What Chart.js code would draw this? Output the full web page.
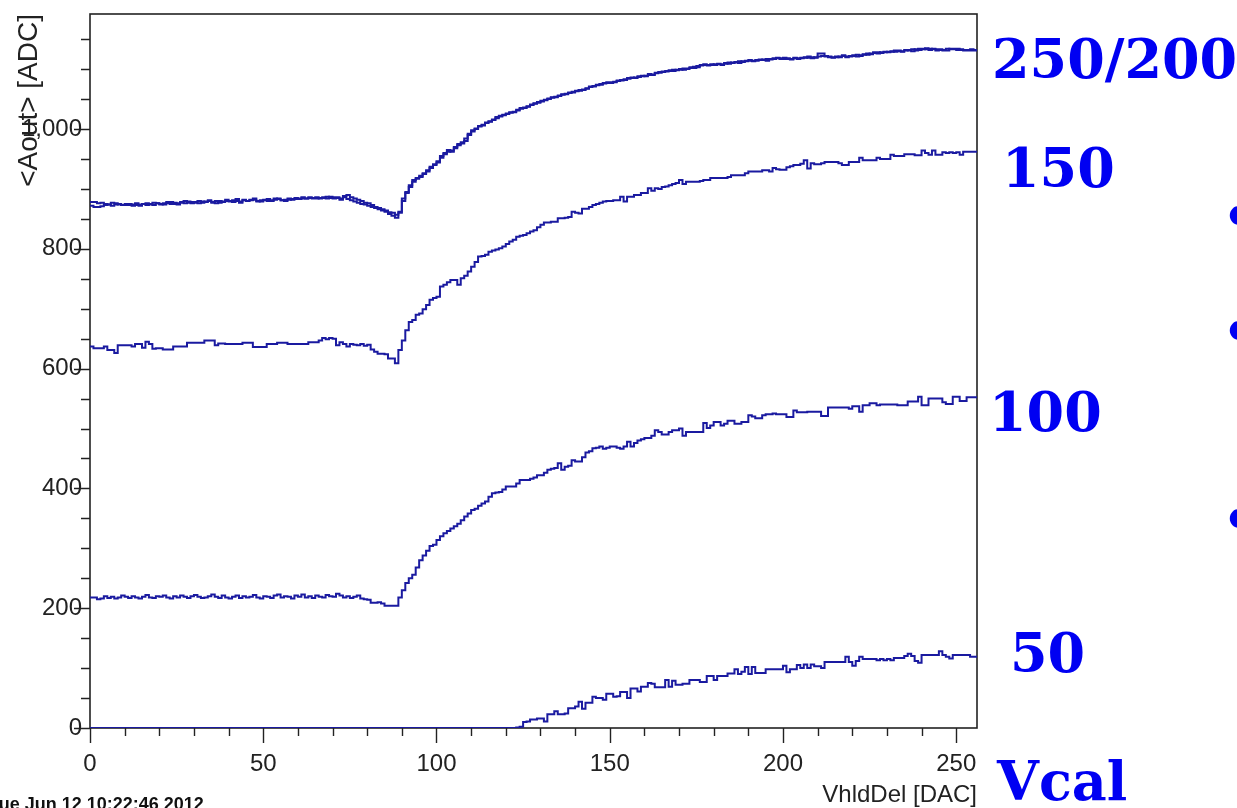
<!DOCTYPE html>
<html>
<head>
<meta charset="utf-8">
<title>VhldDel scan</title>
<script src="https://cdn.jsdelivr.net/npm/chart.js@4.4.1/dist/chart.umd.min.js"></script>
<style>
  html, body { margin: 0; padding: 0; background: #ffffff; }
  #wrap { position: relative; width: 1237px; height: 808px; overflow: hidden; }
  canvas { display: block; }
</style>
</head>
<body>
<div id="wrap"><canvas id="c" width="1237" height="808"></canvas></div>
<script>
// Mean analog output <Aout> per VhldDel DAC bin (0..255), one scan per Vcal setting
const aout250 = [
  878,878,876,877,875,874,877,876,874,873, 875,873,874,876,874,875,873,875,877,876,
  874,876,878,875,877,876,878,880,877,876, 878,880,877,879,881,878,880,877,879,882,
  880,878,883,879,881,880,882,884,880,879, 881,883,880,882,884,881,880,882,883,885,
  883,884,884,886,884,884,885,885,884,887, 886,886,884,888,890,886,884,882,880,877,
  876,873,870,868,866,864,861,860,857,862, 880,895,906,915,918,922,926,931,937,941,
  946,955,960,965,962,970,973,976,980,990, 996,1001,1004,1007,1010,1012,1015,1020,1021,1023,
  1025,1027,1029,1031,1034,1036,1037,1040,1042,1044, 1047,1048,1050,1053,1054,1055,1058,1058,1060,1062,
  1063,1064,1066,1068,1070,1072,1073,1075,1076,1077, 1077,1079,1080,1081,1083,1085,1085,1086,1087,1088,
  1089,1092,1090,1094,1094,1095,1097,1097,1099,1098, 1100,1099,1100,1102,1104,1103,1107,1107,1106,1108,
  1107,1108,1108,1110,1109,1111,1112,1110,1113,1114, 1114,1113,1115,1115,1116,1114,1117,1118,1118,1117,
  1119,1117,1117,1118,1117,1119,1119,1121,1118,1120, 1126,1126,1122,1120,1120,1120,1121,1122,1120,1122,
  1122,1121,1123,1125,1124,1126,1128,1128,1127,1129, 1128,1130,1129,1130,1130,1132,1131,1130,1133,1134,
  1134,1133,1134,1133,1131,1132,1131,1131,1134,1134, 1134,1132,1131,1131,1131,1131
];
const aout200 = [
  872,870,870,871,873,874,872,874,875,873, 873,875,872,873,872,875,876,874,873,876,
  875,874,876,878,875,874,877,876,879,878, 877,876,879,878,880,877,876,880,878,880,
  879,881,880,877,882,880,881,882,879,881, 882,880,881,884,883,881,882,884,882,883,
  884,886,884,885,885,886,884,886,887,885, 884,885,882,886,883,881,879,877,875,874,
  872,870,868,866,864,862,858,855,852,860, 884,893,903,912,917,920,925,929,935,940,
  944,952,958,962,964,968,975,978,984,992, 998,1000,1005,1006,1011,1013,1016,1018,1022,1024,
  1026,1028,1028,1032,1035,1035,1038,1041,1043,1045, 1046,1049,1051,1052,1053,1056,1057,1059,1061,1061,
  1064,1065,1065,1067,1071,1071,1074,1074,1077,1078, 1078,1078,1081,1082,1082,1084,1086,1085,1088,1089,
  1088,1090,1091,1093,1095,1096,1096,1098,1097,1099, 1099,1101,1101,1103,1102,1105,1106,1108,1107,1107,
  1108,1109,1107,1109,1111,1110,1111,1113,1112,1113, 1115,1114,1114,1116,1115,1117,1116,1117,1119,1118,
  1117,1118,1116,1119,1118,1118,1120,1119,1120,1119, 1121,1122,1121,1121,1119,1121,1120,1123,1121,1121,
  1123,1124,1122,1124,1126,1125,1127,1126,1128,1128, 1129,1129,1131,1131,1129,1131,1132,1133,1131,1132,
  1133,1135,1132,1134,1133,1133,1132,1134,1133,1133, 1132,1133,1132,1132,1133,1132
];
const aout150 = [
  637,634,634,634,637,631,631,626,639,639, 639,639,637,641,641,635,645,641,633,634,
  634,632,632,632,637,637,637,637,643,643, 643,643,643,647,647,647,639,642,642,641,
  641,641,641,641,643,643,643,636,636,636, 636,641,641,641,643,643,643,641,641,641,
  641,641,641,644,644,644,647,651,649,651, 650,639,644,641,637,641,640,639,641,638,
  640,632,628,625,625,624,617,617,609,631, 647,664,678,681,690,692,699,706,715,718,
  720,737,740,744,748,748,740,751,755,762, 770,778,787,788,790,795,797,799,801,804,
  808,812,815,820,822,823,826,829,831,836, 840,844,844,845,845,851,851,852,853,862,
  860,859,867,867,870,873,875,877,879,880, 880,881,881,887,879,887,887,890,890,893,
  893,901,897,901,900,903,904,906,908,910, 915,908,912,912,912,912,913,915,915,918,
  918,918,918,918,920,923,923,923,923,926, 929,929,929,929,931,931,929,935,933,932,
  932,936,938,940,940,942,948,934,943,941, 941,943,945,945,945,945,943,940,940,945,
  945,945,952,948,948,948,948,952,950,950, 950,957,955,955,955,958,958,958,956,956,
  964,960,957,964,957,957,961,960,961,960, 961,957,962,962,962,962
];
const aout100 = [
  218,218,215,216,220,217,219,216,218,221, 219,217,220,218,216,219,222,218,217,220,
  219,221,218,216,220,218,221,219,217,220, 222,219,217,218,220,223,219,217,221,218,
  216,219,221,217,220,218,219,222,218,216, 220,219,217,221,223,218,220,219,216,221,
  219,223,218,220,217,221,219,218,222,220, 219,224,221,218,220,217,219,221,216,215,
  214,209,209,210,208,204,204,204,204,218, 230,242,250,256,268,280,288,296,304,306,
  314,320,325,329,333,337,341,347,353,358, 364,366,371,375,378,386,392,393,394,398,
  403,403,403,408,414,414,414,416,418,422, 422,426,431,433,434,442,431,436,438,447,
  445,445,452,460,462,467,468,470,466,468, 470,470,468,466,470,478,470,476,480,482,
  484,484,488,497,494,490,490,494,497,497, 500,488,494,494,494,494,494,509,501,505,
  511,511,505,508,513,513,508,508,511,511, 522,520,517,517,522,524,524,525,524,524,
  524,519,519,530,527,527,527,528,528,528, 528,521,521,535,535,535,535,535,535,533,
  537,537,528,539,539,542,542,539,540,540, 540,540,540,539,539,539,545,545,545,553,
  539,539,550,550,550,550,544,541,541,553, 553,546,546,552,552,552
];
const aout50 = [
  0,0,0,0,0,0,0,0,0,0, 0,0,0,0,0,0,0,0,0,0,
  0,0,0,0,0,0,0,0,0,0, 0,0,0,0,0,0,0,0,0,0,
  0,0,0,0,0,0,0,0,0,0, 0,0,0,0,0,0,0,0,0,0,
  0,0,0,0,0,0,0,0,0,0, 0,0,0,0,0,0,0,0,0,0,
  0,0,0,0,0,0,0,0,0,0, 0,0,0,0,0,0,0,0,0,0,
  0,0,0,0,0,0,0,0,0,0, 0,0,0,0,0,0,0,0,0,0,
  0,0,0,1,2,10,11,14,14,16, 16,11,23,23,28,23,23,24,33,33,
  36,44,32,42,42,52,50,50,47,57, 57,52,53,60,60,50,66,66,61,69,
  69,75,74,68,68,68,80,69,79,72, 72,74,74,80,80,80,77,77,87,87,
  80,87,87,87,91,91,98,90,94,102, 90,102,92,92,92,98,98,98,98,98,
  104,93,98,98,105,100,106,100,106,103, 103,100,110,110,110,110,110,110,119,110,
  104,112,119,115,115,115,115,113,115,113, 115,113,117,117,117,120,124,120,112,109,
  122,122,122,122,122,128,122,119,116,122, 122,122,122,122,119,119
];

const binCount = aout50.length;            // 256 DAC bins
const bins = Array.from({ length: binCount }, (_, i) => i);
const xTickLabels = [0, 50, 100, 150, 200, 250];
const yTickLabels = [0, 200, 400, 600, 800, 1000];
const vcalLabels = [
  { text: '250/200', x: 992, y: 78 },
  { text: '150', x: 1002, y: 187 },
  { text: '100', x: 989, y: 431 },
  { text: '50', x: 1010, y: 672 },
  { text: 'Vcal', x: 997, y: 800 }
];
const bulletRows = [236, 351, 539];

const lineColor = '#1a1aa0';
const axisColor = '#222222';

// histogram outline: each bin value holds over [i, i+1)
function histPoints(values) {
  const pts = bins.map((b, i) => ({ x: b, y: values[i] }));
  pts.push({ x: binCount, y: values[binCount - 1] });
  return pts;
}
function histDataset(values) {
  return {
    data: histPoints(values),
    borderColor: lineColor,
    borderWidth: 2,
    stepped: true,
    pointRadius: 0,
    fill: false,
    tension: 0
  };
}

// ROOT-style frame plus major/minor tick marks
const framePlugin = {
  id: 'frame',
  beforeDatasetsDraw(chart) {
    const { ctx, chartArea: a, scales } = chart;
    ctx.save();
    ctx.strokeStyle = axisColor;
    ctx.lineWidth = 1.6;
    ctx.strokeRect(a.left, a.top, a.right - a.left, a.bottom - a.top);
    ctx.lineWidth = 1.4;
    ctx.beginPath();
    for (let v = 0; v <= 256; v += 10) {
      const px = Math.round(scales.x.getPixelForValue(v)) + 0.5;
      ctx.moveTo(px, a.bottom);
      ctx.lineTo(px, a.bottom + (v % 50 === 0 ? 15 : 8));
    }
    for (let v = 0; v <= 1190; v += 50) {
      const py = Math.round(scales.y.getPixelForValue(v)) + 0.5;
      ctx.moveTo(a.left, py);
      ctx.lineTo(a.left - (v % 200 === 0 ? 16 : 9), py);
    }
    ctx.stroke();
    ctx.restore();
  }
};

// Vcal annotations, slide bullets and the time stamp
const notesPlugin = {
  id: 'notes',
  afterDraw(chart) {
    const { ctx } = chart;
    ctx.save();
    ctx.textBaseline = 'alphabetic';
    ctx.textAlign = 'left';
    ctx.fillStyle = '#0000f2';
    ctx.font = 'bold 54px "DejaVu Serif"';
    vcalLabels.forEach(l => ctx.fillText(l.text, l.x, l.y));
    bulletRows.forEach(y => ctx.fillText('\u2022', 1222, y));
    ctx.fillStyle = '#111111';
    ctx.font = 'bold 18px "Liberation Sans"';
    ctx.fillText('Tue Jun 12 10:22:46 2012', -11, 810);
    ctx.restore();
  }
};

new Chart(document.getElementById('c'), {
  type: 'line',
  data: {
    datasets: [
      histDataset(aout250),
      histDataset(aout200),
      histDataset(aout150),
      histDataset(aout100),
      histDataset(aout50)
    ]
  },
  options: {
    responsive: false,
    animation: false,
    devicePixelRatio: 1,
    layout: { padding: { top: 14, right: 260, left: 0, bottom: 0 } },
    plugins: { legend: { display: false }, tooltip: { enabled: false } },
    elements: { point: { radius: 0 } },
    scales: {
      x: {
        type: 'linear',
        min: 0,
        max: binCount,
        afterFit(s) { s.height = 80; s.paddingLeft = 0; s.paddingRight = 0; },
        afterBuildTicks(s) { s.ticks = xTickLabels.map(v => ({ value: v })); },
        grid: { display: false, drawTicks: false },
        border: { display: false },
        ticks: {
          autoSkip: false, maxRotation: 0, padding: 22,
          color: axisColor,
          font: { family: '"Liberation Sans", Arial, sans-serif', size: 24 }
        },
        title: {
          display: true, text: 'VhldDel [DAC]', align: 'end',
          color: axisColor, padding: { top: 0, bottom: -2 },
          font: { family: '"Liberation Sans", Arial, sans-serif', size: 24 }
        }
      },
      y: {
        type: 'linear',
        min: 0,
        max: 1192,
        afterFit(s) { s.width = 90; s.paddingTop = 0; s.paddingBottom = 0; },
        afterBuildTicks(s) { s.ticks = yTickLabels.map(v => ({ value: v })); },
        grid: { display: false, drawTicks: false },
        border: { display: false },
        ticks: {
          autoSkip: false, padding: 8,
          color: axisColor,
          font: { family: '"Liberation Sans", Arial, sans-serif', size: 24 }
        },
        title: {
          display: true, text: '<Aout> [ADC]', align: 'end',
          color: axisColor, padding: { top: 12, bottom: 0 },
          font: { family: '"Liberation Sans", Arial, sans-serif', size: 28 }
        }
      }
    }
  },
  plugins: [framePlugin, notesPlugin]
});
</script>
</body>
</html>
